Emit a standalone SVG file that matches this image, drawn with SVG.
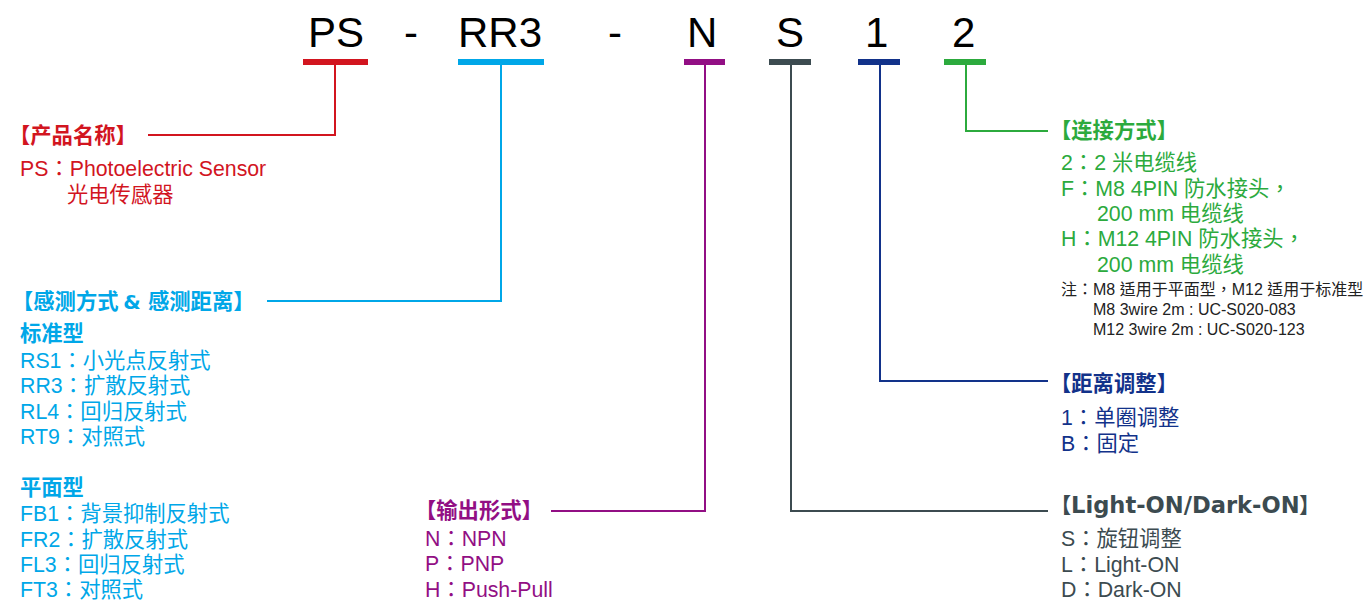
<svg xmlns="http://www.w3.org/2000/svg" width="1364" height="600" viewBox="0 0 1364 600">
<style>
text{font-family:"Liberation Sans","Noto Sans CJK TC",Arial,sans-serif;font-size:21.3px}
.h{font-family:"Noto Sans CJK SC","Liberation Sans",sans-serif;font-weight:700;font-size:21.3px}
.amp{font-family:"DejaVu Sans",sans-serif;font-weight:700;font-size:20px}
.lat{font-family:"DejaVu Sans",sans-serif;font-weight:700;font-size:22.6px}
.code{font-size:42px;fill:#000}
.note{font-size:16px;fill:#222}
.red{fill:#d2151f}.cyan{fill:#00a7e8}.purple{fill:#920f84}.grey{fill:#3c4b50}.navy{fill:#12328a}.green{fill:#2caa3d}
.l{fill:none;stroke-width:2}
</style>
<rect width="1364" height="600" fill="#fff"/>
<g id="connectors">
<path class="l" stroke="#d2151f" d="M335 64V135H148"/>
<path class="l" stroke="#00a7e8" d="M501 64V301H267"/>
<path class="l" stroke="#920f84" d="M705 64V511H551"/>
<path class="l" stroke="#3c4b50" d="M791 64V511H1048"/>
<path class="l" stroke="#12328a" d="M880 64V381H1048"/>
<path class="l" stroke="#2caa3d" d="M966 64V131H1048"/>
</g>
<g id="code-ps"><text class="code" x="308" y="47">PS</text><rect class="red" x="303" y="59" width="65" height="6"/></g>
<g id="code-dash1"><text class="code" x="404" y="47">-</text></g>
<g id="code-rr3"><text class="code" x="458" y="47">RR3</text><rect class="cyan" x="458" y="59" width="86" height="6"/></g>
<g id="code-dash2"><text class="code" x="608" y="47">-</text></g>
<g id="code-n"><text class="code" x="687" y="47">N</text><rect class="purple" x="684" y="59" width="41" height="6"/></g>
<g id="code-s"><text class="code" x="776" y="47">S</text><rect class="grey" x="769" y="59" width="42" height="6"/></g>
<g id="code-1"><text class="code" x="865" y="47">1</text><rect class="navy" x="858" y="59" width="42" height="6"/></g>
<g id="code-2"><text class="code" x="952" y="47">2</text><rect class="green" x="944" y="59" width="42" height="6"/></g>
<g id="node-name" class="red">
<text class="h" x="9" y="143">【产品名称】</text>
<text x="20" y="176">PS：Photoelectric Sensor</text>
<text x="67" y="202">光电传感器</text>
</g>
<g id="node-mode" class="cyan">
<text class="h" x="12" y="309">【感测方式 <tspan class="amp">&amp;</tspan> <tspan x="148">感测距离】</tspan></text>
<text class="h" x="20" y="341">标准型</text>
<text x="20" y="368">RS1：小光点反射式</text>
<text x="20" y="393">RR3：扩散反射式</text>
<text x="20" y="419">RL4：回归反射式</text>
<text x="20" y="444">RT9：对照式</text>
<text class="h" x="20" y="495">平面型</text>
<text x="20" y="521">FB1：背景抑制反射式</text>
<text x="20" y="547">FR2：扩散反射式</text>
<text x="20" y="572">FL3：回归反射式</text>
<text x="20" y="597">FT3：对照式</text>
</g>
<g id="node-output" class="purple">
<text class="h" x="415" y="518">【输出形式】</text>
<text x="425" y="546">N：NPN</text>
<text x="425" y="571">P：PNP</text>
<text x="425" y="597">H：Push-Pull</text>
</g>
<g id="node-connection" class="green">
<text class="h" x="1050" y="138">【连接方式】</text>
<text x="1061" y="170">2：2 米电缆线</text>
<text x="1061" y="196">F：M8 4PIN 防水接头，</text>
<text x="1097" y="221">200 mm 电缆线</text>
<text x="1061" y="246">H：M12 4PIN 防水接头，</text>
<text x="1097" y="272">200 mm 电缆线</text>
<text class="note" x="1061" y="295">注：M8 适用于平面型，M12 适用于标准型</text>
<text class="note" x="1093" y="315">M8 3wire 2m : UC-S020-083</text>
<text class="note" x="1093" y="335">M12 3wire 2m : UC-S020-123</text>
</g>
<g id="node-distance" class="navy">
<text class="h" x="1050" y="391">【距离调整】</text>
<text x="1061" y="425">1：单圈调整</text>
<text x="1061" y="451">B：固定</text>
</g>
<g id="node-light" class="grey">
<text class="h" x="1050" y="513">【<tspan class="lat" x="1071">Light-ON/Dark-ON</tspan><tspan x="1299">】</tspan></text>
<text x="1061" y="546">S：旋钮调整</text>
<text x="1061" y="572">L：Light-ON</text>
<text x="1061" y="597">D：Dark-ON</text>
</g>
</svg>
